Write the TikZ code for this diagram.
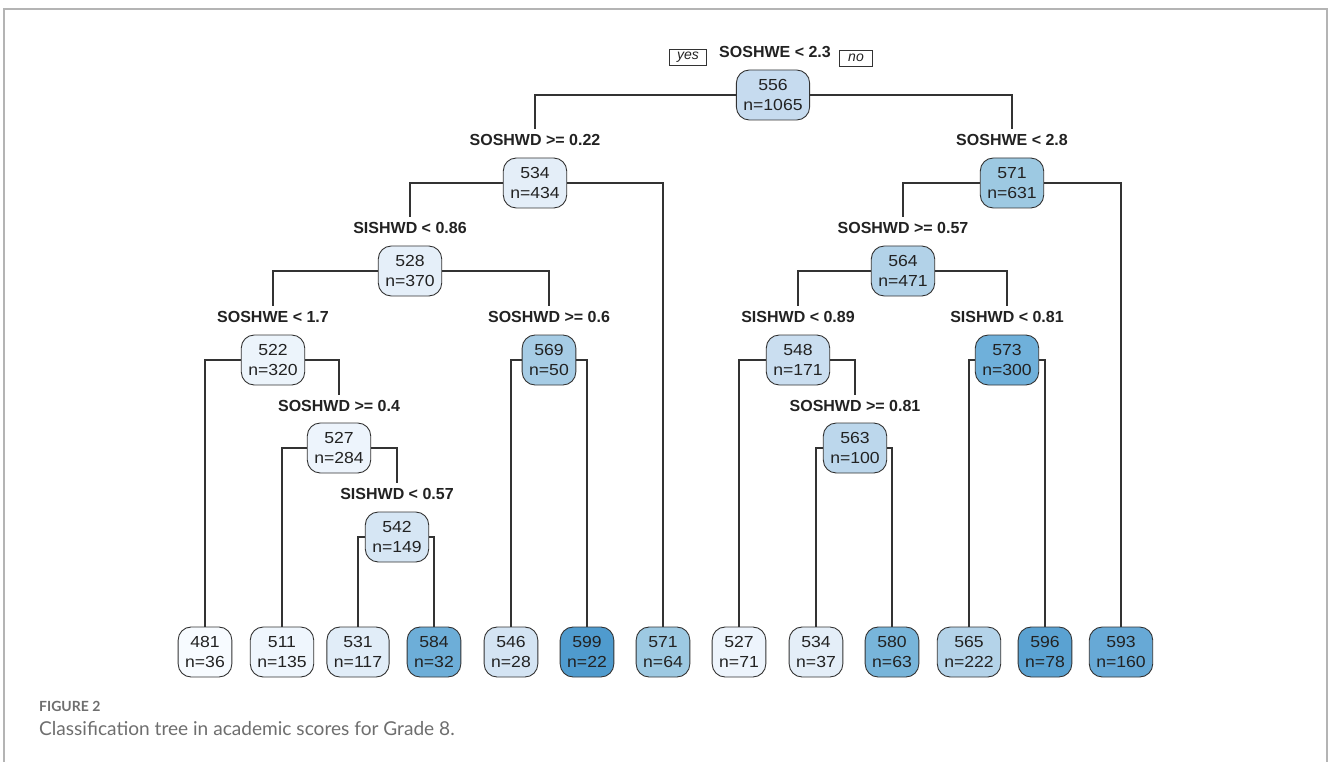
\documentclass[tikz,border=0pt]{standalone}
\usepackage{fontspec}
\setmainfont{Liberation Sans}
\newfontfamily\treefont[FakeStretch=1.1]{Liberation Sans}
\newfontfamily\capfont{Lato}
\definecolor{txt}{HTML}{222222}
\definecolor{boxborder}{HTML}{333333}
\definecolor{edgec}{HTML}{333333}
\definecolor{framec}{HTML}{B4B4B4}
\definecolor{capgray}{HTML}{6E6E6E}
\definecolor{v481}{HTML}{F7FBFF}
\definecolor{v511}{HTML}{EFF6FD}
\definecolor{v522}{HTML}{ECF4FB}
\definecolor{v527}{HTML}{EDF4FC}
\definecolor{v528}{HTML}{E5EFF9}
\definecolor{v531}{HTML}{E1EDF8}
\definecolor{v534}{HTML}{E4EEF8}
\definecolor{v542}{HTML}{D6E6F4}
\definecolor{v546}{HTML}{D4E4F3}
\definecolor{v548}{HTML}{CADEF0}
\definecolor{v556}{HTML}{C6DBEF}
\definecolor{v563}{HTML}{BCD7EC}
\definecolor{v564}{HTML}{B2D2E8}
\definecolor{v565}{HTML}{B4D3E9}
\definecolor{v569}{HTML}{A6CCE5}
\definecolor{v571}{HTML}{9DC9E2}
\definecolor{v573}{HTML}{6FB0DA}
\definecolor{v580}{HTML}{78B5DA}
\definecolor{v584}{HTML}{6DAED8}
\definecolor{v593}{HTML}{67A9D6}
\definecolor{v596}{HTML}{5AA2D2}
\definecolor{v599}{HTML}{4F9BCE}
\tikzset{
  tnode/.style={draw=boxborder, line width=0.9pt, rounded corners=13pt,
    minimum height=50pt, inner xsep=7pt, inner ysep=0pt, align=center,
    font=\treefont\fontsize{16}{20}\selectfont, text=txt, fill=#1},
  split/.style={font=\bfseries\fontsize{16}{19}\selectfont, text=txt,
    inner sep=0pt, outer ysep=5pt},
  edge/.style={draw=edgec, line width=1.2pt},
  yn/.style={draw=boxborder, line width=0.7pt, inner sep=0pt,
    minimum width=37pt, minimum height=16pt,
    font=\itshape\fontsize{14}{14}\selectfont, text=txt},
}
\begin{document}
\begin{tikzpicture}[x=1pt,y=-1pt]
\useasboundingbox (0,0) rectangle (1328,762);
\draw[framec, line width=1.3pt] (4,762) -- (4,9) -- (1327,9) -- (1327,762);

% internal nodes
\node[tnode=v556] (n556) at (773,95)  {556\\n=1065};
\node[split] (s556) at (775,52) {SOSHWE < 2.3};
\node[yn] (yes) at (688,57) {yes};
\node[yn, minimum width=33pt] (no) at (856,58) {no};

\node[tnode=v534] (n534) at (535,183) {534\\n=434};
\node[split] (s534) at (535,140) {SOSHWD >= 0.22};
\node[tnode=v571] (n571) at (1012,183) {571\\n=631};
\node[split] (s571) at (1012,140) {SOSHWE < 2.8};

\node[tnode=v528] (n528) at (410,271) {528\\n=370};
\node[split] (s528) at (410,228) {SISHWD < 0.86};
\node[tnode=v564] (n564) at (903,271) {564\\n=471};
\node[split] (s564) at (903,228) {SOSHWD >= 0.57};

\node[tnode=v522] (n522) at (273,360) {522\\n=320};
\node[split] (s522) at (273,317) {SOSHWE < 1.7};
\node[tnode=v569] (n569) at (549,360) {569\\n=50};
\node[split] (s569) at (549,317) {SOSHWD >= 0.6};
\node[tnode=v548] (n548) at (798,360) {548\\n=171};
\node[split] (s548) at (798,317) {SISHWD < 0.89};
\node[tnode=v573] (n573) at (1007,360) {573\\n=300};
\node[split] (s573) at (1007,317) {SISHWD < 0.81};

\node[tnode=v527] (n527) at (339,448) {527\\n=284};
\node[split] (s527) at (339,406) {SOSHWD >= 0.4};
\node[tnode=v563] (n563) at (855,448) {563\\n=100};
\node[split] (s563) at (855,406) {SOSHWD >= 0.81};

\node[tnode=v542] (n542) at (397,537) {542\\n=149};
\node[split] (s542) at (397,494) {SISHWD < 0.57};

% leaves
\node[tnode=v481] (l481) at (205,652)  {481\\n=36};
\node[tnode=v511] (l511) at (282,652)  {511\\n=135};
\node[tnode=v531] (l531) at (358,652)  {531\\n=117};
\node[tnode=v584] (l584) at (434,652)  {584\\n=32};
\node[tnode=v546] (l546) at (511,652)  {546\\n=28};
\node[tnode=v599] (l599) at (587,652)  {599\\n=22};
\node[tnode=v571] (l571) at (663,652)  {571\\n=64};
\node[tnode=v527] (l527) at (739,652)  {527\\n=71};
\node[tnode=v534] (l534) at (816,652)  {534\\n=37};
\node[tnode=v580] (l580) at (892,652)  {580\\n=63};
\node[tnode=v565] (l565) at (969,652)  {565\\n=222};
\node[tnode=v596] (l596) at (1045,652) {596\\n=78};
\node[tnode=v593] (l593) at (1121,652) {593\\n=160};

% edges
\draw[edge] (n556.west) -| (s534.north);
\draw[edge] (n556.east) -| (s571.north);
\draw[edge] (n534.west) -| (s528.north);
\draw[edge] (n534.east) -| (l571.north);
\draw[edge] (n571.west) -| (s564.north);
\draw[edge] (n571.east) -| (l593.north);
\draw[edge] (n528.west) -| (s522.north);
\draw[edge] (n528.east) -| (s569.north);
\draw[edge] (n564.west) -| (s548.north);
\draw[edge] (n564.east) -| (s573.north);
\draw[edge] (n522.west) -| (l481.north);
\draw[edge] (n522.east) -| (s527.north);
\draw[edge] (n527.west) -| (l511.north);
\draw[edge] (n527.east) -| (s542.north);
\draw[edge] (n542.west) -| (l531.north);
\draw[edge] (n542.east) -| (l584.north);
\draw[edge] (n569.west) -| (l546.north);
\draw[edge] (n569.east) -| (l599.north);
\draw[edge] (n548.west) -| (l527.north);
\draw[edge] (n548.east) -| (s563.north);
\draw[edge] (n563.west) -| (l534.north);
\draw[edge] (n563.east) -| (l580.north);
\draw[edge] (n573.west) -| (l565.north);
\draw[edge] (n573.east) -| (l596.north);

% caption
\node[anchor=base west, inner sep=0pt, text=capgray,
  font=\capfont\bfseries\fontsize{14}{16}\selectfont] (fig) at (39,711) {FIGURE 2};
\node[anchor=base west, inner sep=0pt, text=capgray,
  font=\capfont\fontsize{19.1}{21}\selectfont] (cap) at (39,735) {Classification tree in academic scores for Grade 8.};
\end{tikzpicture}
\end{document}
